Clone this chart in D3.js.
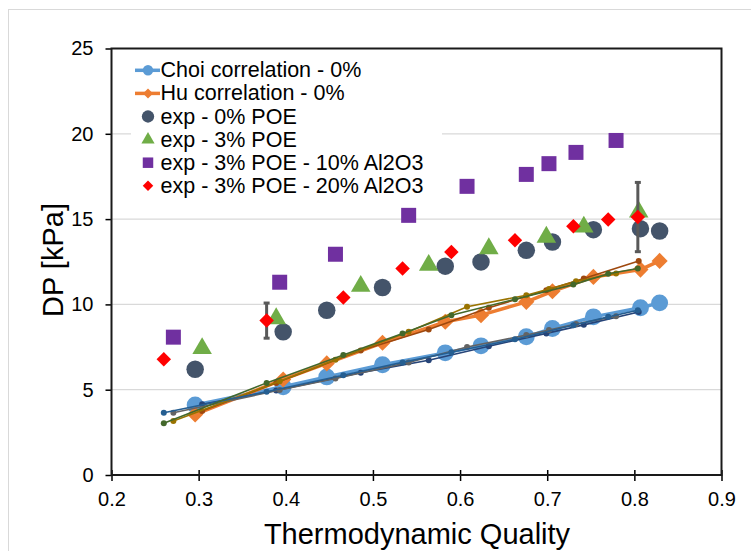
<!DOCTYPE html>
<html><head><meta charset="utf-8">
<script src="https://cdn.jsdelivr.net/npm/d3@7"></script>
<style>html,body{margin:0;padding:0;background:#fff;}svg{display:block;font-family:"Liberation Sans",Arial,sans-serif;}</style>
</head><body>
<svg id="c" width="751" height="551"></svg>
<script>
// ---- data ----
const xTicks = [0.2,0.3,0.4,0.5,0.6,0.7,0.8,0.9];
const yTicks = [0,5,10,15,20,25];
const x0 = [0.296,0.397,0.447,0.511,0.583,0.624,0.676,0.706,0.753,0.807,0.829];
const choi0 = [4.10,5.17,5.75,6.46,7.16,7.57,8.10,8.59,9.27,9.80,10.09];
const hu0 = [3.55,5.60,6.54,7.75,8.98,9.37,10.15,10.77,11.61,12.04,12.55];
const exp0 = [6.20,8.39,9.66,10.99,12.24,12.49,13.17,13.66,14.38,14.44,14.30];
const x3 = [0.304,0.389,0.486,0.564,0.633,0.699,0.742,0.805];
const exp3 = [7.42,9.17,11.07,12.30,13.27,13.95,14.54,15.42];
const choi3 = [4.15,4.95,6.00,6.73,7.55,8.30,8.80,9.55];
const hu3 = [3.75,5.40,7.30,8.53,9.80,10.83,11.52,12.55];
const x10 = [0.271,0.393,0.457,0.541,0.608,0.676,0.702,0.733,0.779];
const exp10 = [8.08,11.30,12.94,15.22,16.92,17.62,18.25,18.91,19.61];
const choi10 = [3.65,4.98,5.66,6.60,7.50,8.20,8.50,8.85,9.30];
const hu10 = [3.16,5.50,6.75,8.40,9.86,10.54,10.90,11.36,11.81];
const x20 = [0.260,0.378,0.466,0.534,0.590,0.663,0.730,0.770,0.804];
const exp20 = [6.79,9.05,10.40,12.10,13.07,13.76,14.58,14.97,15.12];
const err20 = [0,1.03,0,0,0,0,0,0,2.03];
const choi20 = [3.65,4.88,5.85,6.60,7.20,7.96,8.78,9.27,9.66];
const hu20 = [3.03,5.40,7.03,8.30,9.37,10.30,11.16,11.80,12.10];
const legendLabels = ["Choi correlation - 0%","Hu correlation - 0%","exp - 0% POE","exp - 3% POE","exp - 3% POE - 10% Al2O3","exp - 3% POE - 20% Al2O3"];

const svg = d3.select("#c");
const x = d3.scaleLinear().domain([0.2,0.9]).range([111.5,721.5]);
const y = d3.scaleLinear().domain([0,25]).range([475,48.5]);

// outer chart border
svg.append("rect").attr("x",8.5).attr("y",9.5).attr("width",800).attr("height",600)
  .attr("fill","#fff").attr("stroke","#D9D9D9").attr("stroke-width",1);

// gridlines
svg.append("g").selectAll("line").data(yTicks.filter(d=>d>0&&d<25)).join("line")
  .attr("x1",x(0.2)).attr("x2",x(0.9)).attr("y1",d=>y(d)).attr("y2",d=>y(d))
  .attr("stroke","#D9D9D9").attr("stroke-width",1.3);

// axes
const xAxis = d3.axisBottom(x).tickValues(xTicks).tickFormat(d3.format(".1f")).tickSizeInner(5).tickSizeOuter(0).tickPadding(12);
const gx = svg.append("g").attr("transform",`translate(0,${y(0)})`).call(xAxis);
gx.select(".domain").remove();
gx.selectAll(".tick line").attr("y1",-5).attr("y2",6).attr("stroke","#000").attr("stroke-width",1.5);
gx.selectAll(".tick text").attr("font-size",20).attr("fill","#000").attr("dy","0.71em");
const yAxis = d3.axisLeft(y).tickValues(yTicks).tickSizeInner(6).tickSizeOuter(0).tickPadding(12);
const gy = svg.append("g").attr("transform",`translate(${x(0.2)},0)`).call(yAxis);
gy.select(".domain").remove();
gy.selectAll(".tick line").attr("stroke","#000").attr("stroke-width",1.5);
gy.selectAll(".tick text").attr("font-size",20).attr("fill","#000");

// plot border
svg.append("rect").attr("x",x(0.2)).attr("y",y(25)).attr("width",x(0.9)-x(0.2)).attr("height",y(0)-y(25))
  .attr("fill","none").attr("stroke","#1a1a1a").attr("stroke-width",2);

// axis titles
svg.append("text").attr("x",417).attr("y",544).attr("text-anchor","middle").attr("font-size",29).attr("fill","#000").text("Thermodynamic Quality");
svg.append("text").attr("transform","translate(63,260) rotate(-90)").attr("text-anchor","middle").attr("font-size",29).attr("fill","#000").text("DP [kPa]");

const line = d3.line().x(d=>x(d[0])).y(d=>y(d[1]));
const zip = (a,b)=>a.map((v,i)=>[v,b[i]]);

// thick correlation lines
const plot = svg.append("g");
function thick(xs, ys, color, sym, size, rot){
  plot.append("path").datum(zip(xs,ys)).attr("d",line).attr("fill","none").attr("stroke",color).attr("stroke-width",3.5).attr("stroke-linejoin","round");
  plot.append("g").selectAll("path").data(zip(xs,ys)).join("path")
    .attr("d",d3.symbol().type(sym).size(size))
    .attr("transform",d=>`translate(${x(d[0])},${y(d[1])}) rotate(${rot})`).attr("fill",color);
}
thick(x0, choi0, "#5B9BD5", d3.symbolCircle, 225, 0);
thick(x0, hu0, "#ED7D31", d3.symbolSquare, 130, 45);

// thin correlation lines
function thin(xs, ys, color){
  plot.append("path").datum(zip(xs,ys)).attr("d",line).attr("fill","none").attr("stroke",color).attr("stroke-width",1.6);
  plot.append("g").selectAll("circle").data(zip(xs,ys)).join("circle")
    .attr("cx",d=>x(d[0])).attr("cy",d=>y(d[1])).attr("r",3).attr("fill",color);
}
thin(x3, choi3, "#264478");
thin(x3, hu3, "#9E480E");
thin(x10, choi10, "#636363");
thin(x10, hu10, "#997300");
thin(x20, choi20, "#255E91");
thin(x20, hu20, "#43682B");

// experimental markers
function scatter(xs, ys, color, sym, size, rot){
  plot.append("g").selectAll("path").data(zip(xs,ys)).join("path")
    .attr("d",d3.symbol().type(sym).size(size))
    .attr("transform",d=>`translate(${x(d[0])},${y(d[1])}) rotate(${rot})`).attr("fill",color);
}
scatter(x0, exp0, "#44546A", d3.symbolCircle, 240, 0);
scatter(x3, exp3, "#70AD47", d3.symbolTriangle, 165, 0);
scatter(x10, exp10, "#7030A0", d3.symbolSquare, 225, 0);
// error bars for 20% series
const eb = plot.append("g");
zip(x20, exp20).forEach((d,i)=>{
  const e = err20[i]; if(!e) return;
  const cx = x(d[0]);
  eb.append("line").attr("x1",cx).attr("x2",cx).attr("y1",y(d[1]+e)).attr("y2",y(d[1]-e)).attr("stroke","#595959").attr("stroke-width",3);
  [d[1]+e,d[1]-e].forEach(v=>eb.append("line").attr("x1",cx-3).attr("x2",cx+3).attr("y1",y(v)).attr("y2",y(v)).attr("stroke","#595959").attr("stroke-width",3));
});
scatter(x20, exp20, "#FF0000", d3.symbolSquare, 105, 45);

// legend
const lg = svg.append("g");
lg.append("rect").attr("x",131).attr("y",56).attr("width",311).attr("height",144).attr("fill","#fff");
const baseY = [77.3,100.4,123.5,146.6,169.7,192.8];
const lgSym = [
  {c:"#5B9BD5", t:d3.symbolCircle, s:85, r:0, line:true},
  {c:"#ED7D31", t:d3.symbolSquare, s:50, r:45, line:true},
  {c:"#44546A", t:d3.symbolCircle, s:120, r:0},
  {c:"#70AD47", t:d3.symbolTriangle, s:75, r:0},
  {c:"#7030A0", t:d3.symbolSquare, s:110, r:0},
  {c:"#FF0000", t:d3.symbolSquare, s:55, r:45}
];
legendLabels.forEach((lab,i)=>{
  const cy = baseY[i]-7;
  const s = lgSym[i];
  if(s.line) lg.append("line").attr("x1",135).attr("x2",160).attr("y1",cy).attr("y2",cy).attr("stroke",s.c).attr("stroke-width",3.5);
  lg.append("path").attr("d",d3.symbol().type(s.t).size(s.s)).attr("transform",`translate(148,${cy}) rotate(${s.r})`).attr("fill",s.c);
  lg.append("text").attr("x",160.5).attr("y",baseY[i]).attr("font-size",21.5).attr("fill","#000").text(lab);
});
</script>
</body></html>
